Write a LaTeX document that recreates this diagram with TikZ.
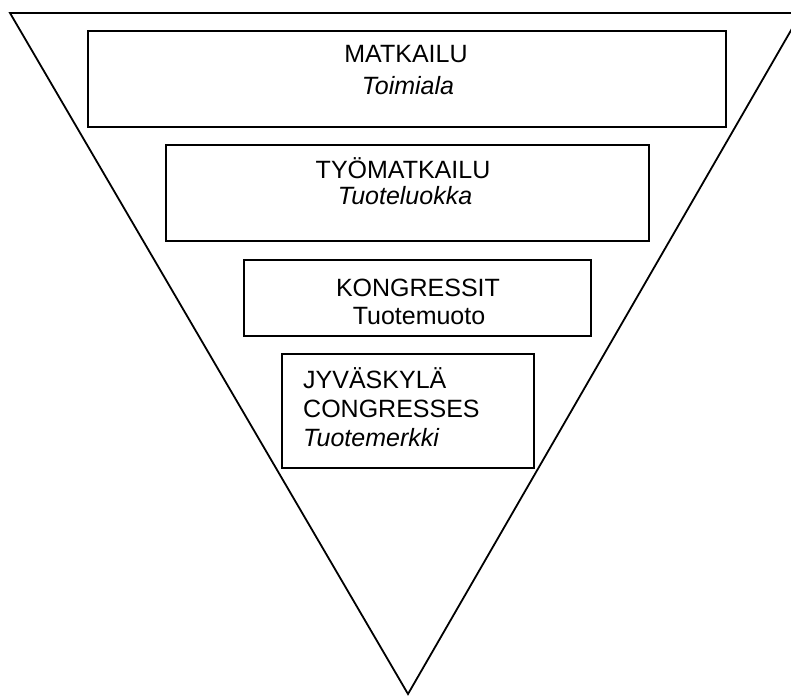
\documentclass[tikz,border=0pt]{standalone}
\usepackage{fontspec}
\setmainfont{Liberation Sans}
\begin{document}
\begin{tikzpicture}[x=1pt,y=-1pt,
  level/.style={draw=black,line width=2pt,fill=white,inner sep=0pt},
  lbl/.style={anchor=base,inner sep=0pt,font=\fontsize{25}{30}\selectfont},
  lblit/.style={lbl,font=\fontsize{25}{30}\selectfont\itshape}]
\useasboundingbox (0,0) rectangle (791,695);
\begin{scope}
\clip (0,0) rectangle (791,695);
% inverted triangle
\coordinate (tl) at (10,13);
\coordinate (tr) at (801,13);
\coordinate (apex) at (408,694);
\draw[line width=1.8pt,line join=miter] (tl) -- (tr) -- (apex) -- cycle;
\end{scope}
% stacked levels
\node[level,minimum width=638pt,minimum height=96pt] (b1) at (407,79) {};
\node[level,minimum width=483pt,minimum height=96pt] (b2) at (407.5,193) {};
\node[level,minimum width=347pt,minimum height=76pt] (b3) at (417.5,298) {};
\node[level,minimum width=252pt,minimum height=114pt] (b4) at (408,411) {};
% labels
\node[lbl]   (t1a) at (406,63)  {MATKAILU};
\node[lblit] (t1b) at (408,95)  {Toimiala};
\node[lbl]   (t2a) at (403,178) {TYÖMATKAILU};
\node[lblit] (t2b) at (405,204) {Tuoteluokka};
\node[lbl]   (t3a) at (418,296) {KONGRESSIT};
\node[lbl]   (t3b) at (419,324) {Tuotemuoto};
\node[lbl,anchor=base west]   (t4a) at (303,388) {JYVÄSKYLÄ};
\node[lbl,anchor=base west]   (t4b) at (303,417) {CONGRESSES};
\node[lblit,anchor=base west] (t4c) at (303,446) {Tuotemerkki};
\end{tikzpicture}
\end{document}
